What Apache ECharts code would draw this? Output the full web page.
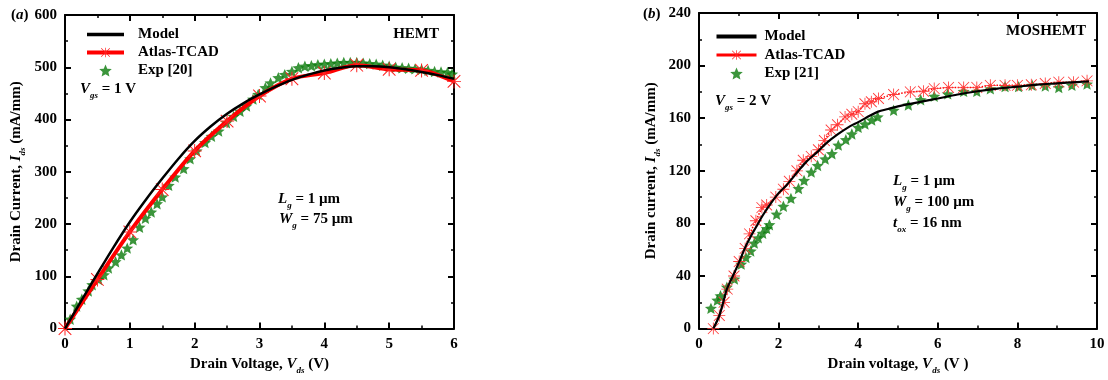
<!DOCTYPE html>
<html><head><meta charset="utf-8">
<script src="https://cdn.jsdelivr.net/npm/echarts@6/dist/echarts.min.js"></script>
<style>html,body{margin:0;padding:0;background:#fff}#c{width:1108px;height:380px}</style>
</head><body><div id="c"></div>
<script>
// ---------- (a) HEMT data ----------
const hemtModelV = [0,0.25,0.5,0.75,1,1.25,1.5,1.75,2,2.25,2.5,2.75,3,3.25,3.5,3.75,4,4.25,4.5,4.75,5,5.25,5.5,5.75,6];
const hemtModelI = [0,53,105,156,204,247,287,325,359,387,411,431,448,463,476,486,494,499,502,502,500,496,491,485,478];
const hemtTcadV = [0,0.5,1,1.5,2,2.5,3,3.5,4,4.5,5,5.5,6];
const hemtTcadI = [0,94,185,266,340,397,445,478,489,504,496,494,473];
const hemtExpV = [0.08,0.18,0.26,0.36,0.42,0.52,0.60,0.67,0.78,0.87,0.96,1.05,1.15,1.24,1.33,1.42,1.50,1.60,1.70,1.83,1.93,2.03,2.16,2.26,2.37,2.49,2.60,2.70,2.80,2.90,2.98,3.09,3.17,3.29,3.39,3.50,3.60,3.70,3.80,3.90,4.00,4.10,4.20,4.30,4.40,4.50,4.60,4.70,4.80,4.90,5.00,5.10,5.20,5.30,5.40,5.50,5.60,5.70,5.80,5.90,5.97];
const hemtExpI = [18,43,56,72,84,94,103,116,128,141,154,170,194,211,223,239,252,274,290,306,325,340,356,368,378,394,406,416,426,439,448,461,470,480,486,492,499,502,503,505,506,507,508,509,509,509,508,507,506,504,502,500,499,498,497,496,494,492,491,490,487];
// ---------- (b) MOSHEMT data ----------
const mosModelV = [0.36,0.5,0.6,0.7,0.85,1.0,1.15,1.3,1.45,1.6,1.8,2.0,2.2,2.5,2.7,3.0,3.2,3.5,3.8,4.0,4.3,4.5,4.75,5.0,5.5,6.0,6.5,7.0,7.5,8.0,8.5,9.0,9.5,9.8];
const mosModelI = [0,9,19,30,40,50,61,70,78,86,95,103,109,120,127,135,141,148,154,157,162,165,167,169,172,175,178,180.5,182.5,184,185.5,186.5,187.5,188];
const mosTcadV = [0.36,0.51,0.63,0.71,0.88,1.01,1.16,1.27,1.43,1.58,1.70,1.93,2.12,2.27,2.46,2.62,2.82,3.0,3.15,3.32,3.48,3.67,3.84,4.0,4.17,4.33,4.51,4.89,5.31,5.64,5.91,6.27,6.65,6.98,7.32,7.69,8.0,8.35,8.70,9.04,9.41,9.75];
const mosTcadI = [0,10,20,30,40,51,61,72,82,92,94,100,106,112,120,128,131,136,143,151,155,161,163,165,171,172.5,175,178,180,180.5,182.5,183.4,183.4,183.4,185,185,185,185.4,186.4,187.4,187.4,188.4];
const mosExpV = [0.30,0.46,0.54,0.70,0.89,1.06,1.18,1.30,1.39,1.49,1.60,1.70,1.77,1.95,2.12,2.31,2.50,2.64,2.82,2.98,3.17,3.34,3.50,3.69,3.84,4.0,4.17,4.34,4.49,4.89,5.26,5.57,5.91,6.25,6.65,6.98,7.32,7.69,8.03,8.37,8.70,9.04,9.37,9.75];
const mosExpI = [15.4,21.6,25,31.5,37.7,49,54,59,65,69,72.5,76,79,87,93,99,106.5,112.7,119,124,129,133,139.5,143.7,148,153,155.6,158.6,161,166,170,174,176.7,178.5,180.4,180.4,182.4,184,184,185,184.4,183.4,185,186];

const F = 'Liberation Serif';
const pair = (xs, ys) => xs.map((x, i) => [x, ys[i]]);
const ASTER = 'path://M9.3 0H10.7V20H9.3Z M0 9.3H20V10.7H0Z M1.5 0.5L19.5 18.5L18.5 19.5L0.5 1.5Z M18.5 0.5L19.5 1.5L1.5 19.5L0.5 18.5Z';
const STAR = 'path://M50 0L63.5 31.5L97.55 34.55L71.5 57.2L79.39 90.45L50 73L20.61 90.45L28.5 57.2L2.45 34.55L36.5 31.5Z';
const LINEICON = 'path://M0 0H40V4H0Z';
const GREEN = '#0a7a0a';

function axis(extra, labels) {
  return Object.assign({
    type: 'value',
    axisLine: {show: true, onZero: false, lineStyle: {color: '#000', width: 2}},
    axisTick: {show: true, inside: true, length: 6, lineStyle: {color: '#000', width: 2}},
    minorTick: {show: true, splitNumber: 2, length: 3, lineStyle: {color: '#000', width: 1.5}},
    splitLine: {show: false},
    axisLabel: {show: labels, color: '#000', fontFamily: F, fontWeight: 'bold', fontSize: 15, margin: 8},
  }, extra);
}
const nameRich = {
  n: {fontFamily: F, fontWeight: 'bold', fontSize: 15, color: '#000', lineHeight: 22},
  i: {fontFamily: F, fontWeight: 'bold', fontStyle: 'italic', fontSize: 15, color: '#000', lineHeight: 22},
  s: {fontFamily: F, fontWeight: 'bold', fontStyle: 'italic', fontSize: 9, color: '#000', lineHeight: 22, verticalAlign: 'bottom'}
};
const nts = {rich: nameRich, fontFamily: F, fontWeight: 'bold', fontSize: 15, color: '#000'};

const gRich = {
  n: {fontFamily: F, fontWeight: 'bold', fontSize: 15, fill: '#000', lineHeight: 22},
  i: {fontFamily: F, fontWeight: 'bold', fontStyle: 'italic', fontSize: 15, fill: '#000', lineHeight: 22},
  s: {fontFamily: F, fontWeight: 'bold', fontStyle: 'italic', fontSize: 9, fill: '#000', lineHeight: 22, verticalAlign: 'bottom'}
};
function gtext(x, y, text, align) {
  return {type: 'text', x: x, y: y, z: 100, style: {text: text, rich: gRich, fill: '#000', fontFamily: F, fontWeight: 'bold', fontSize: 15, align: align || 'left', verticalAlign: 'middle'}};
}

const option = {
  animation: false,
  backgroundColor: '#fff',
  grid: [
    {left: 65, top: 15, width: 389, height: 316},
    {left: 699, top: 13, width: 398, height: 323}
  ],
  xAxis: [
    axis({gridIndex: 0, min: 0, max: 6, interval: 1, position: 'bottom',
      name: '{n|Drain Voltage, }{i|V}{s|ds}{n| (V)}', nameLocation: 'middle', nameGap: 24, nameTextStyle: nts}, true),
    axis({gridIndex: 0, min: 0, max: 6, interval: 1, position: 'top'}, false),
    axis({gridIndex: 1, min: 0, max: 10, interval: 2, position: 'bottom',
      name: '{n|Drain voltage, }{i|V}{s|ds}{n| (V )}', nameLocation: 'middle', nameGap: 24, nameTextStyle: nts}, true),
    axis({gridIndex: 1, min: 0, max: 10, interval: 2, position: 'top'}, false)
  ],
  yAxis: [
    axis({gridIndex: 0, min: 0, max: 600, interval: 100, position: 'left',
      name: '{n|Drain Current, }{i|I}{s|ds}{n| (mA/mm)}', nameLocation: 'middle', nameRotate: 90, nameGap: 38, nameTextStyle: nts}, true),
    axis({gridIndex: 0, min: 0, max: 600, interval: 100, position: 'right'}, false),
    axis({gridIndex: 1, min: 0, max: 240, interval: 40, position: 'left',
      name: '{n|Drain current, }{i|I}{s|ds}{n| (mA/mm)}', nameLocation: 'middle', nameRotate: 90, nameGap: 37, nameTextStyle: nts}, true),
    axis({gridIndex: 1, min: 0, max: 240, interval: 40, position: 'right'}, false)
  ],
  legend: [
    {left: 80, top: 22, orient: 'vertical', itemWidth: 37, itemHeight: 12, itemGap: 3,
      data: [{name: 'Model', icon: LINEICON, itemStyle: {color: '#000'}},
             {name: 'Atlas-TCAD', lineStyle: {width: 4, type: 'solid'}},
             {name: 'Exp [20]'}],
      textStyle: {fontFamily: F, fontWeight: 'bold', fontSize: 15, lineHeight: 14, color: '#000', padding: [0, 0, 0, 9]}},
    {left: 710, top: 24, orient: 'vertical', itemWidth: 40, itemHeight: 12, itemGap: 3.5,
      data: [{name: 'Model', icon: LINEICON, itemStyle: {color: '#000'}},
             {name: 'Atlas-TCAD', lineStyle: {width: 3, type: 'solid'}},
             {name: 'Exp [21]'}],
      textStyle: {fontFamily: F, fontWeight: 'bold', fontSize: 15, lineHeight: 14, color: '#000', padding: [0, 0, 0, 3]}}
  ],
  series: [
    {name: 'Exp [20]', type: 'scatter', xAxisIndex: 0, yAxisIndex: 0, z: 2,
      symbol: STAR, symbolSize: 12, symbolKeepAspect: true, itemStyle: {color: GREEN},
      data: pair(hemtExpV, hemtExpI)},
    {name: 'Atlas-TCAD', type: 'line', xAxisIndex: 0, yAxisIndex: 0, z: 3, smooth: 0.3,
      symbol: ASTER, symbolSize: 14, showAllSymbol: true, itemStyle: {color: '#ff2020'},
      lineStyle: {color: '#ff0000', width: 4},
      data: pair(hemtTcadV, hemtTcadI)},
    {name: 'Model', type: 'line', xAxisIndex: 0, yAxisIndex: 0, z: 4, smooth: 0.3,
      symbol: 'none', lineStyle: {color: '#000', width: 2.5}, itemStyle: {color: '#000'},
      data: pair(hemtModelV, hemtModelI)},

    {name: 'Exp [21]', type: 'scatter', xAxisIndex: 2, yAxisIndex: 2, z: 2,
      symbol: STAR, symbolSize: 12, symbolKeepAspect: true, itemStyle: {color: GREEN},
      data: pair(mosExpV, mosExpI)},
    {name: 'Atlas-TCAD', type: 'line', xAxisIndex: 2, yAxisIndex: 2, z: 3,
      symbol: ASTER, symbolSize: 12, showAllSymbol: true, itemStyle: {color: '#ff3a3a'},
      lineStyle: {color: '#ff0000', width: 1.5, type: 'dotted'},
      data: pair(mosTcadV, mosTcadI)},
    {name: 'Model', type: 'line', xAxisIndex: 2, yAxisIndex: 2, z: 4, smooth: 0.3,
      symbol: 'none', lineStyle: {color: '#000', width: 2.2}, itemStyle: {color: '#000'},
      data: pair(mosModelV, mosModelI)}
  ],
  graphic: [
    gtext(11, 15, '{n|(}{i|a}{n|)}'),
    gtext(439, 34, '{n|HEMT}', 'right'),
    gtext(80, 89, '{i|V}{s|gs}{n| = 1 V}'),
    gtext(278, 199, '{i|L}{s|g}{n| = 1 µm}'),
    gtext(279, 219, '{i|W}{s|g}{n| = 75 µm}'),

    gtext(643, 14, '{n|(}{i|b}{n|)}'),
    gtext(1086, 31, '{n|MOSHEMT}', 'right'),
    gtext(715, 101, '{i|V}{s|gs}{n| = 2 V}'),
    gtext(893, 181, '{i|L}{s|g}{n| = 1 µm}'),
    gtext(893, 202, '{i|W}{s|g}{n| = 100 µm}'),
    gtext(893, 223, '{i|t}{s|ox}{n| = 16 nm}')
  ]
};
const chart = echarts.init(document.getElementById('c'), null, {renderer: 'canvas'});
chart.setOption(option);
</script>
</body></html>
